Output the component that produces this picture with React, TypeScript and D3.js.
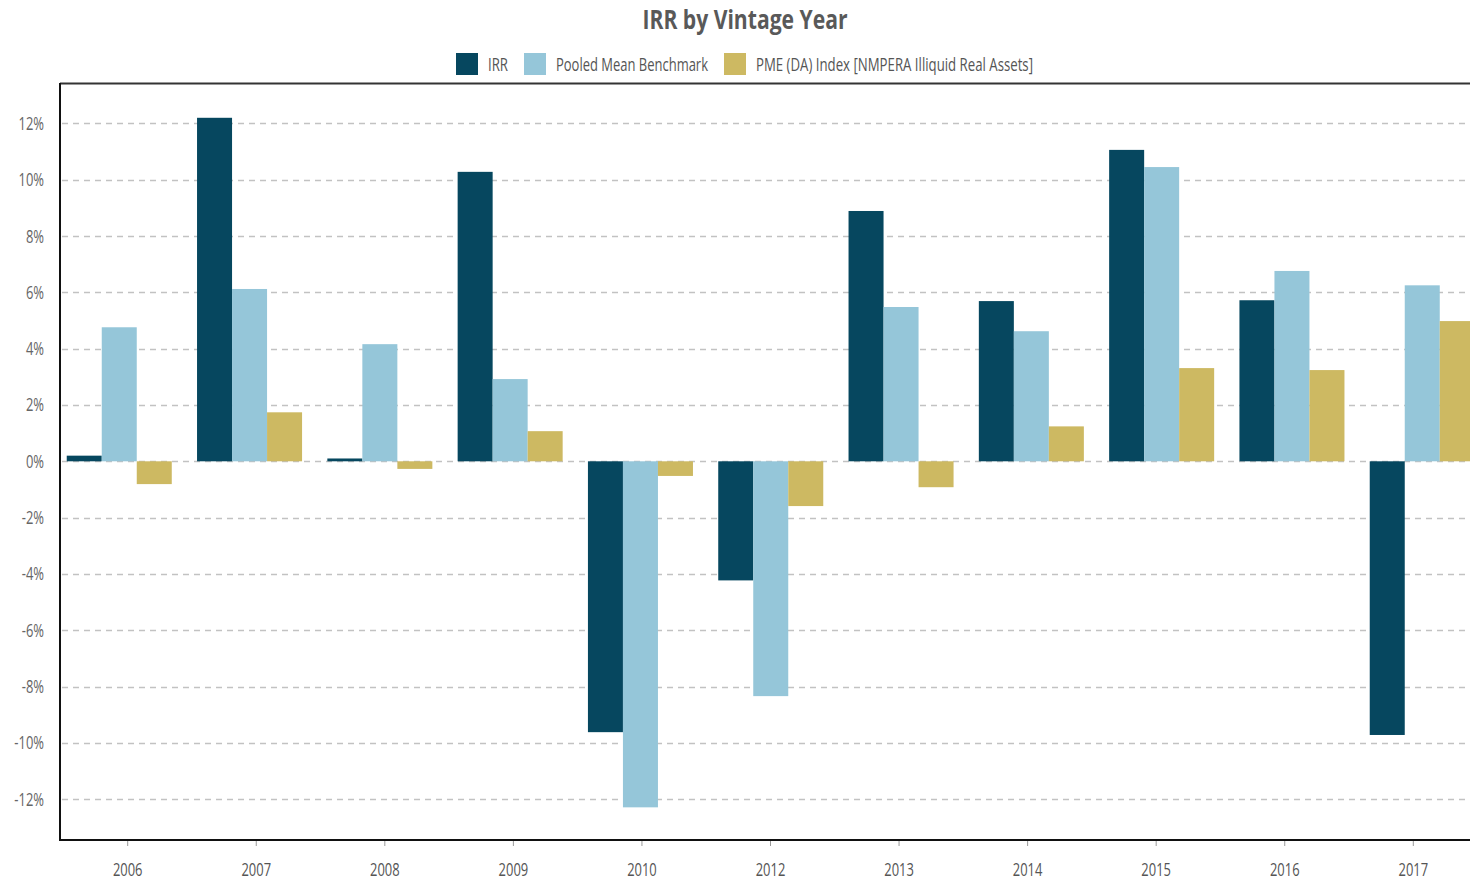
import React from 'react';
import * as d3 from 'd3';

const years = ['2006', '2007', '2008', '2009', '2010', '2012', '2013', '2014', '2015', '2016', '2017'];
const irr = [0.2, 12.2, 0.1, 10.28, -9.62, -4.23, 8.89, 5.69, 11.06, 5.72, -9.72];
const pooledMean = [4.76, 6.12, 4.16, 2.92, -12.29, -8.34, 5.48, 4.62, 10.45, 6.76, 6.25];
const pmeIndex = [-0.81, 1.74, -0.27, 1.07, -0.52, -1.59, -0.92, 1.24, 3.31, 3.24, 4.98];
const yTicks = [-12, -10, -8, -6, -4, -2, 0, 2, 4, 6, 8, 10, 12];

const seriesNames = ['IRR', 'Pooled Mean Benchmark', 'PME (DA) Index [NMPERA Illiquid Real Assets]'];
const seriesColors = ['#06475f', '#95c6d9', '#cdb962'];
const seriesData = [irr, pooledMean, pmeIndex];

const FONT = "'Open Sans', 'Noto Sans', sans-serif";

class App extends React.Component {
  render() {
    const width = 1470, height = 884;
    const left = 60, top = 84, bottom = 840;

    //D3 mathy bits
    let y = d3.scaleLinear().domain([-13.45, 13.4]).range([bottom, top]);
    let x = d3.scaleBand()
      .domain(years)
      .range([54.1, 54.1 + 130.3 * 11])
      .paddingInner(0.194)
      .paddingOuter(0.097);
    let inner = d3.scaleBand().domain(seriesNames).range([0, x.bandwidth()]);
    let xTick = d3.scalePoint().domain(years).range([127.7, 1413.3]);

    let grid = yTicks.map((t) => (
      <line key={'g' + t} x1={left + 2} x2={width} y1={Math.round(y(t)) + 0.5} y2={Math.round(y(t)) + 0.5}
        stroke="#c2c2c2" strokeWidth={1.4} strokeDasharray="6,5" />
    ));

    let yLabels = yTicks.map((t) => (
      <g key={'yl' + t} transform={`translate(44,${y(t) + 6.5}) scale(0.72,1)`}>
        <text textAnchor="end" fontSize={18} fill="#666" fontFamily={FONT}>{t + '%'}</text>
      </g>
    ));

    let bars = [];
    seriesData.forEach((data, s) => {
      data.forEach((v, i) => {
        let y0 = y(0), y1 = y(v);
        bars.push(<rect key={s + '-' + i} x={x(years[i]) + inner(seriesNames[s])} width={inner.bandwidth()}
          y={Math.min(y0, y1)} height={Math.abs(y1 - y0)} fill={seriesColors[s]} />);
      });
    });

    let xLabels = years.map((yr) => (
      <g key={'xl' + yr}>
        <line x1={xTick(yr)} x2={xTick(yr)} y1={bottom} y2={bottom + 6} stroke="#999" strokeWidth={1} />
        <g transform={`translate(${xTick(yr)},876) scale(0.72,1)`}>
          <text textAnchor="middle" fontSize={18} fill="#555" fontFamily={FONT}>{yr}</text>
        </g>
      </g>
    ));

    const legend = [
      { sx: 456, tx: 488, tw: 20 },
      { sx: 524, tx: 556, tw: 152 },
      { sx: 724, tx: 756, tw: 277 },
    ];

    return (
      <svg width={width} height={height} style={{ position: 'absolute', left: 0, top: 0, background: '#fff' }}>
        <text x={745} y={29} textAnchor="middle" fontSize={27} fontWeight="bold" fill="#595959" fontFamily={FONT}
          textLength={205} lengthAdjust="spacingAndGlyphs">IRR by Vintage Year</text>

        {legend.map((l, i) => (
          <g key={'lg' + i}>
            <rect x={l.sx} y={53} width={22} height={22} fill={seriesColors[i]} />
            <text x={l.tx} y={71} fontSize={17.5} fill="#555" fontFamily={FONT}
              textLength={l.tw} lengthAdjust="spacingAndGlyphs">{seriesNames[i]}</text>
          </g>
        ))}

        {grid}
        {bars}
        {yLabels}
        {xLabels}

        <line x1={left} x2={width} y1={top - 0.5} y2={top - 0.5} stroke="#333" strokeWidth={2} />
        <line x1={left} x2={left} y1={top - 1} y2={bottom + 1} stroke="#111" strokeWidth={2} />
        <line x1={left - 1} x2={width} y1={bottom} y2={bottom} stroke="#111" strokeWidth={2} />
      </svg>
    );
  }
}

export default App;
